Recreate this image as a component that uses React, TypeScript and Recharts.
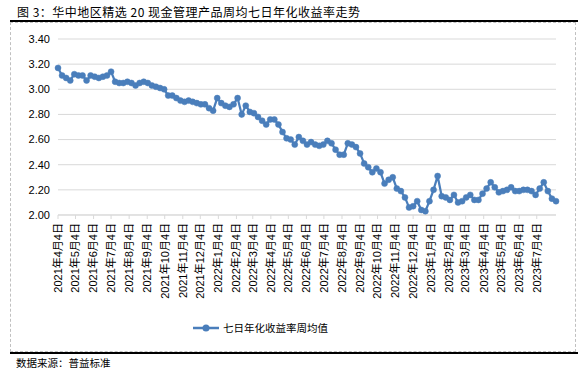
import React from "react";
import { LineChart, Line, XAxis, YAxis, CartesianGrid, Legend } from "recharts";

const startDate = "2021-04-04";

// 七日年化收益率周均值 (%), one value per week
const weeklyRates = [
  3.17, 3.11, 3.09, 3.07, 3.12, 3.11, 3.11, 3.07, 3.11, 3.10,
  3.09, 3.10, 3.11, 3.14, 3.06, 3.05, 3.05, 3.06, 3.05, 3.03,
  3.05, 3.06, 3.05, 3.03, 3.02, 3.01, 3.00, 2.95, 2.95, 2.93,
  2.91, 2.90, 2.91, 2.90, 2.89, 2.88, 2.88, 2.85, 2.83, 2.93,
  2.89, 2.87, 2.86, 2.88, 2.93, 2.80, 2.87, 2.82, 2.81, 2.78,
  2.75, 2.72, 2.76, 2.76, 2.72, 2.66, 2.61, 2.60, 2.56, 2.62,
  2.59, 2.56, 2.58, 2.56, 2.55, 2.56, 2.59, 2.57, 2.52, 2.48,
  2.48, 2.57, 2.56, 2.54, 2.49, 2.41, 2.38, 2.34, 2.37, 2.34,
  2.25, 2.28, 2.30, 2.21, 2.19, 2.14, 2.06, 2.07, 2.11, 2.04,
  2.03, 2.11, 2.20, 2.31, 2.15, 2.14, 2.12, 2.16, 2.10, 2.11,
  2.14, 2.16, 2.12, 2.12, 2.17, 2.21, 2.26, 2.22, 2.18, 2.19,
  2.20, 2.22, 2.19, 2.19, 2.20, 2.20, 2.19, 2.16, 2.21, 2.26,
  2.19, 2.13, 2.11,
];

const tickLabels = [
  "2021年4月4日", "2021年5月4日", "2021年6月4日", "2021年7月4日",
  "2021年8月4日", "2021年9月4日", "2021年10月4日", "2021年11月4日",
  "2021年12月4日", "2022年1月4日", "2022年2月4日", "2022年3月4日",
  "2022年4月4日", "2022年5月4日", "2022年6月4日", "2022年7月4日",
  "2022年8月4日", "2022年9月4日", "2022年10月4日", "2022年11月4日",
  "2022年12月4日", "2023年1月4日", "2023年2月4日", "2023年3月4日",
  "2023年4月4日", "2023年5月4日", "2023年6月4日", "2023年7月4日",
];

const yTicks = [2.0, 2.2, 2.4, 2.6, 2.8, 3.0, 3.2, 3.4];

const DAY = 86400000;
const start = Date.parse(startDate);
const data = weeklyRates.map((v, i) => ({ t: start + i * 7 * DAY, v }));

const parseLabel = (s: string) => {
  const m = s.match(/(\d+)年(\d+)月(\d+)日/)!;
  return Date.UTC(+m[1], +m[2] - 1, +m[3]);
};
const tickValues = tickLabels.map(parseLabel);
const labelFor = new Map(tickValues.map((t, i) => [t, tickLabels[i]]));

const blue = "#4A7EBB";
const font = "'Liberation Sans', Arial, 'Noto Sans CJK SC', sans-serif";
const cjk = "'Noto Sans CJK SC', sans-serif";

const DateTick = ({ x, y, payload }: any) => (
  <g transform={`translate(${x},${y})`}>
    <text transform="rotate(-90)" textAnchor="end" dy="0.35em" fontSize={11} fill="#000" fontFamily={font}>
      {labelFor.get(payload.value)}
    </text>
  </g>
);

const LegendContent = () => (
  <div style={{ display: "flex", alignItems: "center", fontFamily: cjk, fontSize: 10.5, color: "#000" }}>
    <svg width={27} height={10}>
      <line x1={0} y1={5} x2={26} y2={5} stroke={blue} strokeWidth={2.5} />
      <circle cx={13} cy={5} r={3.5} fill={blue} />
    </svg>
    <span style={{ marginLeft: 3 }}>七日年化收益率周均值</span>
  </div>
);

export default function App() {
  return (
    <div style={{ position: "absolute", left: 0, top: 0, width: 588, height: 371, background: "#fff", fontFamily: cjk }}>
      <div style={{ position: "absolute", left: 17, top: 3, fontSize: 12, letterSpacing: 0.5, color: "#000", whiteSpace: "nowrap" }}>
        图 3：华中地区精选 20 现金管理产品周均七日年化收益率走势
      </div>
      <div style={{ position: "absolute", left: 10, top: 22, width: 566, height: 330, border: "1px dashed #c0c0c0", boxSizing: "border-box" }} />
      <div style={{ position: "absolute", left: 10, top: 20, width: 568, height: 2, background: "#000" }} />
      <div style={{ position: "absolute", left: 10, top: 352, width: 568, height: 2, background: "#000" }} />
      <div style={{ position: "absolute", left: 16, top: 355, fontSize: 10.5, color: "#000", whiteSpace: "nowrap" }}>
        数据来源：普益标准
      </div>
      <div style={{ position: "absolute", left: 0, top: 0 }}>
        <LineChart width={588} height={371} data={data} margin={{ top: 39, right: 32, left: 0, bottom: 61 }}>
          <CartesianGrid vertical={false} stroke="#d9d9d9" />
          <XAxis
            dataKey="t"
            type="number"
            scale="linear"
            domain={[data[0].t, data[data.length - 1].t]}
            ticks={tickValues}
            interval={0}
            tick={<DateTick />}
            height={95}
            stroke="#d9d9d9"
            tickSize={4}
            tickMargin={4}
          />
          <YAxis
            domain={[2, 3.4]}
            ticks={yTicks}
            width={58}
            axisLine={false}
            tickLine={false}
            tickFormatter={(v: number) => v.toFixed(2)}
            tick={{ fontSize: 11, fill: "#000", fontFamily: font }}
          />
          <Legend
            layout="horizontal"
            verticalAlign="middle"
            align="center"
            content={<LegendContent />}
            wrapperStyle={{ left: 193, top: 320, width: "auto" }}
          />
          <Line
            type="linear"
            dataKey="v"
            name="七日年化收益率周均值"
            stroke={blue}
            strokeWidth={2.25}
            dot={{ r: 3, fill: blue, stroke: blue, strokeWidth: 0.5 }}
            isAnimationActive={false}
          />
        </LineChart>
      </div>
    </div>
  );
}
